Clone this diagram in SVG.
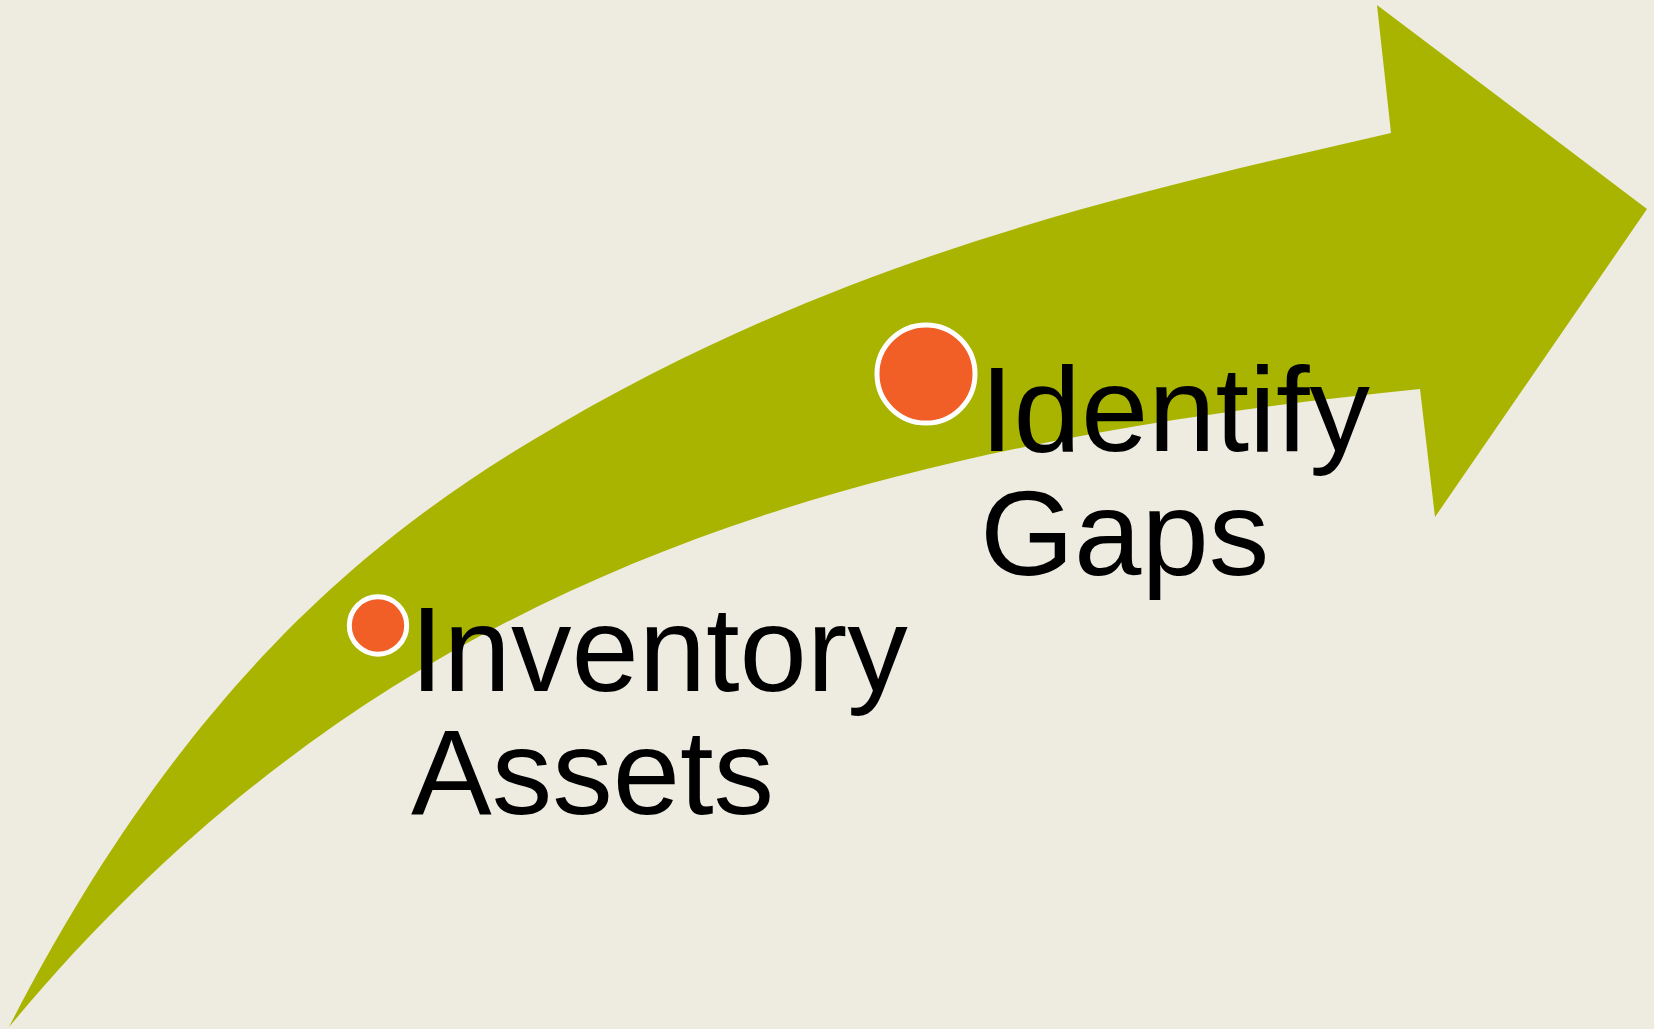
<svg xmlns="http://www.w3.org/2000/svg" width="1654" height="1029" viewBox="0 0 1654 1029">
<style>
.lbl{font-family:"Liberation Sans",Arial,sans-serif;font-size:121px;fill:#000}
.dot{fill:#F15E26;stroke:#FFFFFF;stroke-width:5}
</style>
<rect width="1654" height="1029" fill="#EEECE1"/>
<g id="arrow">
<path d="M9,1027 C179,695.5 363,542 533,440 C833,260 1111,197.4 1391,133 L1377,5 L1647,209 L1435,517 L1420,389 C823,449 374,588 9,1027 Z" fill="#A9B400"/>
</g>
<g id="node-inventory">
<circle class="dot" cx="378" cy="625.5" r="28.7"/>
<text class="lbl" x="410" y="691">Inventory</text>
<text class="lbl" x="411" y="814">Assets</text>
</g>
<g id="node-identify">
<circle class="dot" cx="926" cy="374" r="49"/>
<text class="lbl" x="980" y="451">Identify</text>
<text class="lbl" x="980" y="575">Gaps</text>
</g>
</svg>
